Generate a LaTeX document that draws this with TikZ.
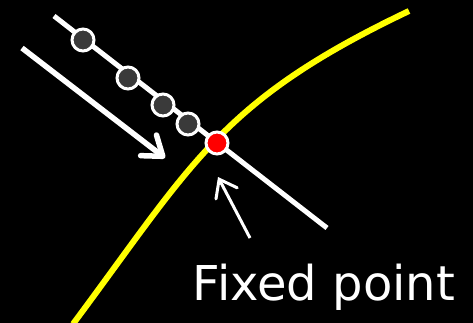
\documentclass[tikz,border=0pt]{standalone}
\usepackage{fontspec}
\setmainfont{DejaVu Sans}
\usetikzlibrary{arrows.meta}
\definecolor{dotgray}{HTML}{3A3A3A}
\definecolor{ylw}{HTML}{FFFF00}
\begin{document}
\begin{tikzpicture}[x=1pt,y=-1pt,
  dot/.style={circle,draw=white,line width=3pt,fill=dotgray,minimum size=22pt,inner sep=0pt},
  fixdot/.style={dot,fill=red},
  whiteline/.style={white,line width=5pt},
  bigarrow/.style={white,line width=5.5pt,-{Straight Barb[length=18pt,width=26pt,line cap=round,line join=round]}},
  smallarrow/.style={white,line width=3pt,-{Straight Barb[length=16pt,width=24pt,line cap=round]}},
  curve/.style={ylw,line width=6pt}]
\fill[black] (0,0) rectangle (473,323);
\useasboundingbox (0,0) rectangle (473,323);
\coordinate (cs) at (73,324);
\coordinate (ce) at (409,11);
\draw[curve] (cs) .. controls (193,163) and (220,101) .. (ce);
\coordinate (ls) at (54,16);
\coordinate (le) at (327,228);
\draw[whiteline] (ls) -- (le);
\node[dot] (d1) at (83,40) {};
\node[dot] (d2) at (128,78) {};
\node[dot] (d3) at (163,105) {};
\node[dot] (d4) at (188,124) {};
\node[fixdot] (fp) at (217,143) {};
\coordinate (as) at (22,48);
\coordinate (at) at (165,158);
\draw[bigarrow] (as) -- (at);
\node[text=white,font=\fontsize{48}{50}\selectfont,anchor=base] (lbl) at (324,300) {Fixed point};
\coordinate (bs) at (250,238);
\coordinate (bt) at (218,177);
\draw[smallarrow] (bs) -- (bt);
\end{tikzpicture}
\end{document}
